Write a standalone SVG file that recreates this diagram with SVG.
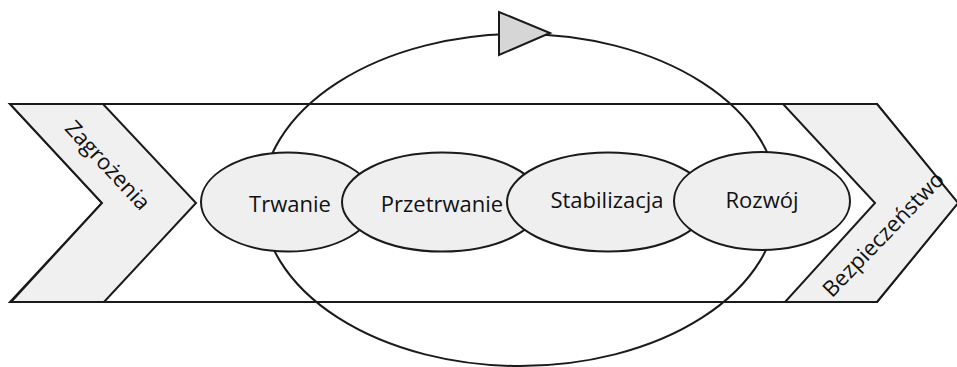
<svg xmlns="http://www.w3.org/2000/svg" width="957" height="367" viewBox="0 0 957 367">
  <style>
    .edge { stroke: #1a1a1a; stroke-width: 2; stroke-linejoin: miter; }
    .band { fill: #ffffff; }
    .chev { fill: #f0f0f0; }
    .stage { fill: #efefef; }
    .loop { fill: none; stroke: #1a1a1a; stroke-width: 2; }
    .head { fill: #d6d6d6; stroke: #1a1a1a; stroke-width: 2; stroke-linejoin: miter; }
    .lbl { font-family: "Open Sans", "Noto Sans", "Liberation Sans", sans-serif; font-size: 22px; fill: #111111; text-anchor: middle; }
  </style>

  <!-- wide arrow band -->
  <g id="band">
    <polygon class="band edge" points="10,104 877,104 958,203 877,302 10,302 102,203"/>
  </g>

  <!-- start chevron -->
  <g id="node-zagrozenia">
    <polygon class="chev edge" points="10,104 103,104 196,203 104,302 11,302 102,203"/>
    <text class="lbl" transform="translate(108,165) rotate(47)" y="8">Zagrożenia</text>
  </g>

  <!-- end chevron -->
  <g id="node-bezpieczenstwo">
    <polygon class="chev edge" points="783,104 877,104 958,203 877,302 785,302 875,203"/>
    <text class="lbl" transform="translate(883,234) rotate(-46)" y="8">Bezpieczeństwo</text>
  </g>

  <!-- cycle loop with its direction head -->
  <g id="connectors">
    <ellipse class="loop" cx="520" cy="200" rx="258" ry="166"/>
    <polygon class="head" points="499,12 499,55 550,33"/>
  </g>

  <!-- stages, each drawn over the previous one -->
  <g id="node-trwanie">
    <ellipse class="stage edge" cx="288" cy="202" rx="87" ry="49.5"/>
    <text class="lbl" x="290" y="212">Trwanie</text>
  </g>
  <g id="node-przetrwanie">
    <ellipse class="stage edge" cx="442" cy="202" rx="100" ry="49.5"/>
    <text class="lbl" x="442" y="212">Przetrwanie</text>
  </g>
  <g id="node-stabilizacja">
    <ellipse class="stage edge" cx="608" cy="202" rx="101" ry="49.5"/>
    <text class="lbl" x="607" y="208">Stabilizacja</text>
  </g>
  <g id="node-rozwoj">
    <ellipse class="stage edge" cx="762" cy="201" rx="88" ry="49"/>
    <text class="lbl" x="762" y="208">Rozwój</text>
  </g>
</svg>
